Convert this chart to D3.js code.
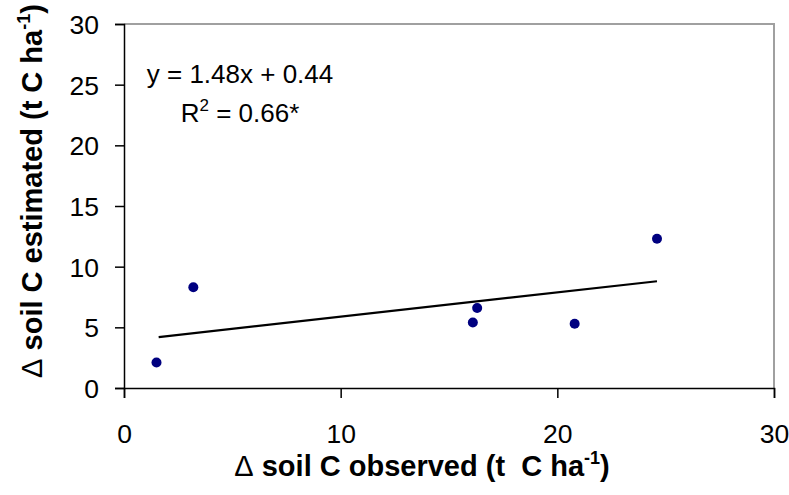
<!DOCTYPE html>
<meta charset="utf-8">
<head>
	<style type="text/css">
		body { margin: 0; background: #fff; }
		text { font-family: Arial, "Liberation Sans", sans-serif; fill: #000; }
		.tick-label { font-size: 26.5px; }
		.title { font-size: 29px; font-weight: bold; }
		.delta { font-weight: normal; }
		.eq { font-size: 26px; }
	</style>
	<title>Soil C observed vs estimated</title>
</head>

<script src="https://cdn.jsdelivr.net/npm/d3@7"></script>

<svg width="789" height="495" id="svg1"></svg>

<script>
	// data
	const observed  = [1.5, 3.2, 16.1, 16.3, 20.8, 24.6];
	const estimated = [2.1, 8.3, 5.4, 6.6, 5.3, 12.3];
	const trendX = [1.6, 24.6];
	const trendY = [4.2, 8.8];
	const xTicks = [0, 10, 20, 30];
	const yTicks = [0, 5, 10, 15, 20, 25, 30];

	const svg1 = d3.select('#svg1');

	const pLeft = 124, pRight = 774, pTop = 24, pBottom = 388;

	const x = d3.scaleLinear().domain([0, 30]).range([pLeft, pRight]);
	const y = d3.scaleLinear().domain([0, 30]).range([pBottom, pTop]);

	// grey frame on top and right
	svg1.append('path')
		.attr('d', `M${pLeft},${pTop}H${pRight}V${pBottom}`)
		.attr('fill', 'none')
		.attr('stroke', '#a0a0a0')
		.attr('stroke-width', 2);

	// y axis
	const yAxis = svg1.append('g')
		.attr('transform', `translate(${pLeft},0)`)
		.call(d3.axisLeft(y).tickValues(yTicks).tickSize(9).tickPadding(10));
	yAxis.select('.domain').attr('stroke', '#000').attr('stroke-width', 1.5);
	yAxis.selectAll('line').attr('stroke', '#000').attr('stroke-width', 1.5);
	yAxis.selectAll('text').attr('class', 'tick-label').attr('x', -25).attr('dy', '0.36em');
	yAxis.attr('font-size', null).attr('font-family', null);

	// x axis
	const xAxis = svg1.append('g')
		.attr('transform', `translate(0,${pBottom})`)
		.call(d3.axisBottom(x).tickValues(xTicks).tickSize(10));
	xAxis.select('.domain').attr('stroke', '#000').attr('stroke-width', 1.5);
	xAxis.selectAll('line').attr('stroke', '#000').attr('stroke-width', 1.5);
	xAxis.selectAll('text').attr('class', 'tick-label').attr('y', 55).attr('dy', null);
	xAxis.attr('font-size', null).attr('font-family', null);

	// trend line
	svg1.append('line')
		.attr('x1', x(trendX[0])).attr('y1', y(trendY[0]))
		.attr('x2', x(trendX[1])).attr('y2', y(trendY[1]))
		.attr('stroke', '#000')
		.attr('stroke-width', 2.2);

	// points
	svg1.selectAll('circle')
		.data(observed.map((d, i) => [d, estimated[i]]))
		.enter()
		.append('circle')
			.attr('cx', d => x(d[0]))
			.attr('cy', d => y(d[1]))
			.attr('r', 5)
			.attr('fill', '#000080');

	// equation
	svg1.append('text')
		.attr('class', 'eq')
		.attr('x', 240).attr('y', 83)
		.attr('text-anchor', 'middle')
		.text('y = 1.48x + 0.44');
	const r2 = svg1.append('text')
		.attr('class', 'eq')
		.attr('x', 240).attr('y', 122)
		.attr('text-anchor', 'middle');
	r2.append('tspan').text('R');
	r2.append('tspan').attr('dy', -11).attr('font-size', 17).text('2');
	r2.append('tspan').attr('dy', 11).text(' = 0.66*');

	// x title
	const xt = svg1.append('text')
		.attr('class', 'title')
		.attr('x', 422).attr('y', 476)
		.attr('text-anchor', 'middle');
	xt.append('tspan').attr('class', 'delta').text('\u0394');
	xt.append('tspan').text(' soil C observed (t\u00a0 C ha');
	xt.append('tspan').attr('dy', -12).attr('font-size', 18).text('-1');
	xt.append('tspan').attr('dy', 12).text(')');

	// y title
	const yt = svg1.append('text')
		.attr('class', 'title')
		.attr('transform', 'translate(42,191) rotate(-90)')
		.attr('text-anchor', 'middle');
	yt.append('tspan').attr('class', 'delta').text('\u0394');
	yt.append('tspan').text(' soil C estimated (t C ha');
	yt.append('tspan').attr('dy', -12).attr('font-size', 18).text('-1');
	yt.append('tspan').attr('dy', 12).text(')');
</script>
